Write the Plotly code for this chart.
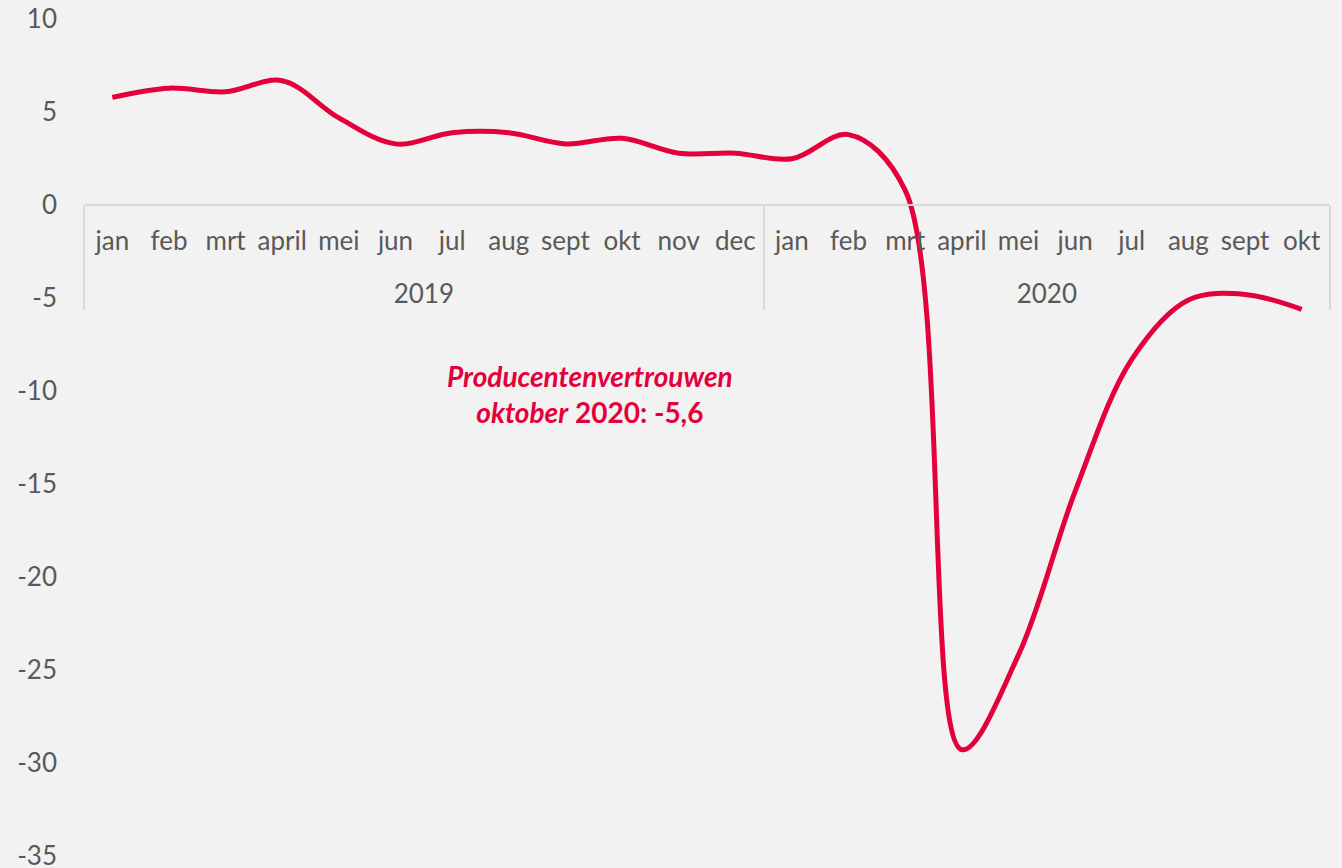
import plotly.graph_objects as go

years = ["2019"] * 12 + ["2020"] * 10
months = ["jan", "feb", "mrt", "april", "mei", "jun", "jul", "aug", "sept", "okt", "nov", "dec",
          "jan", "feb", "mrt", "april", "mei", "jun", "jul", "aug", "sept", "okt"]
values = [5.8, 6.3, 6.1, 6.7, 4.7, 3.3, 3.9, 3.9, 3.3, 3.6, 2.8, 2.8,
          2.5, 3.8, 0.8, -29.3, -24.2, -15.4, -8.3, -5.1, -4.8, -5.6]
y_ticks = [10, 5, 0, -5, -10, -15, -20, -25, -30, -35]

RED = "#E4003A"
GREY_TXT = "#595959"
FONT = "Lato"
FS = 26

# month labels get an extra (small) blank line so the year level sits lower
month_labels = [m + "<br><span style='font-size:19px'> </span>" for m in months]

fig = go.Figure()
fig.add_trace(go.Scatter(
    x=[years, month_labels], y=values, mode="lines",
    line=dict(color=RED, width=5, shape="spline", smoothing=1.0),
    hoverinfo="skip", showlegend=False,
))

ymin, ymax = -35, 10
eps = 0.02
fig.update_layout(
    width=1342, height=868,
    paper_bgcolor="#F2F2F2", plot_bgcolor="#F2F2F2",
    margin=dict(l=84, r=12, t=19, b=12, autoexpand=False),
    font=dict(family=FONT, size=FS, color=GREY_TXT),
    xaxis=dict(
        type="multicategory", anchor="free", position=(0 - ymin) / (ymax - ymin),
        range=[-0.5, 21.5], showline=True, linecolor="#D9D9D9", linewidth=1.5,
        showgrid=False, zeroline=False, ticks="", automargin=False, tickangle=0,
        showdividers=True, dividercolor="#D9D9D9", dividerwidth=1.5,
        ticklabelstandoff=13,
        tickfont=dict(size=FS, color=GREY_TXT),
    ),
    yaxis=dict(
        range=[ymin - eps, ymax + eps], tickvals=y_ticks, ticktext=[str(v) for v in y_ticks],
        showgrid=False, zeroline=False, showline=False, ticks="", automargin=False,
        ticklabeloverflow="allow",
        ticklabelstandoff=26, tickfont=dict(size=FS, color=GREY_TXT),
    ),
)

fig.add_annotation(
    x=0.406, xref="paper", y=-10.16, yref="y",
    text="<b><i>Producentenvertrouwen</i></b><br><b><i>oktober</i> 2020: -5,6</b>",
    showarrow=False, align="center",
    font=dict(family=FONT, size=28, color=RED),
)

fig.write_html(
    "out.html",
    config={"displayModeBar": False},
    post_script="document.body.style.margin='0';document.body.style.overflow='hidden';",
)
